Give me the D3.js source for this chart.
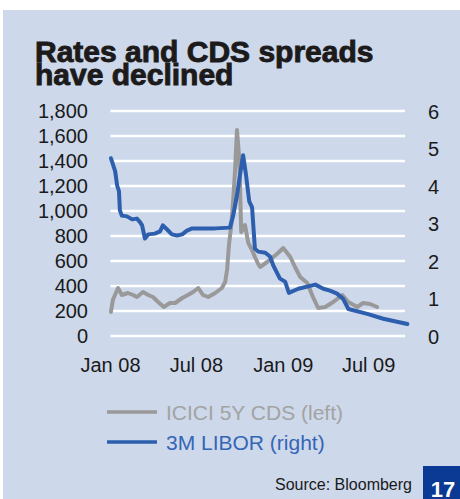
<!DOCTYPE html>
<html>
<head>
<meta charset="utf-8">
<script src="https://cdn.jsdelivr.net/npm/d3@7"></script>
<style>
  html, body { margin: 0; padding: 0; background: #ffffff; }
  svg { display: block; }
</style>
</head>
<body>
<svg id="chart" width="460" height="499"></svg>
<script>
// ICICI 5Y CDS spread (bp, left axis)
const cdsDates = ["2008-01-03","2008-01-07","2008-01-18","2008-01-26","2008-02-08","2008-02-19","2008-02-27","2008-03-11","2008-03-22","2008-04-01","2008-04-12","2008-04-24","2008-05-07","2008-05-18","2008-06-02","2008-06-14","2008-06-25","2008-07-06","2008-07-16","2008-07-27","2008-08-11","2008-08-25","2008-09-01","2008-09-05","2008-09-09","2008-09-14","2008-09-18","2008-09-22","2008-09-26","2008-10-01","2008-10-05","2008-10-13","2008-10-20","2008-10-28","2008-11-03","2008-11-10","2008-11-14","2008-11-29","2008-12-12","2008-12-22","2009-01-02","2009-01-17","2009-01-27","2009-02-07","2009-02-22","2009-03-06","2009-03-17","2009-04-01","2009-04-18","2009-05-07","2009-05-20","2009-06-08","2009-06-20","2009-07-05","2009-07-20"];
const cdsValues = [192,288,384,328,344,328,312,352,328,312,272,232,264,264,304,328,352,384,328,312,344,384,432,528,728,888,1088,1328,1648,1408,832,888,744,688,632,576,552,592,632,664,704,632,552,472,424,312,224,232,272,328,272,232,264,256,232];

// 3M USD LIBOR (%, right axis)
const liborDates = ["2008-01-03","2008-01-12","2008-01-16","2008-01-20","2008-01-22","2008-01-26","2008-02-06","2008-02-17","2008-02-27","2008-03-05","2008-03-09","2008-03-15","2008-03-22","2008-04-05","2008-04-16","2008-04-22","2008-05-01","2008-05-11","2008-05-22","2008-06-02","2008-06-12","2008-06-23","2008-08-11","2008-09-11","2008-09-18","2008-09-26","2008-10-03","2008-10-09","2008-10-15","2008-10-22","2008-10-28","2008-11-03","2008-11-10","2008-11-25","2008-12-05","2008-12-12","2008-12-26","2009-01-06","2009-01-14","2009-02-03","2009-03-11","2009-03-28","2009-04-11","2009-04-26","2009-05-09","2009-05-20","2009-06-29","2009-08-02","2009-08-31","2009-09-22"];
const liborValues = [4.74,4.39,4.02,3.86,3.35,3.21,3.19,3.11,3.13,3.03,2.95,2.60,2.71,2.73,2.79,2.95,2.84,2.71,2.68,2.71,2.81,2.87,2.87,2.89,3.21,3.75,4.34,4.82,4.31,3.59,3.43,2.33,2.25,2.22,2.12,1.88,1.53,1.45,1.15,1.26,1.37,1.26,1.21,1.13,0.99,0.72,0.59,0.46,0.38,0.32];

const leftTicks = [0,200,400,600,800,1000,1200,1400,1600,1800];
const rightTicks = [0,1,2,3,4,5,6];
const xTickDates = ["2008-01-01","2008-07-01","2009-01-01","2009-07-01"];
const xTickLabels = ["Jan 08","Jul 08","Jan 09","Jul 09"];
const xDomain = ["2008-01-01","2009-09-17"];

const parse = d3.timeParse("%Y-%m-%d");
const svg = d3.select("#chart");
const font = "'Liberation Sans', Arial, sans-serif";

// panel background
svg.append("rect").attr("x", 3).attr("y", 10).attr("width", 457).attr("height", 489)
  .attr("fill", "#cdd8ea");

// title
const title = svg.append("text").attr("x", 35).attr("font-family", font)
  .attr("font-weight", "bold").attr("font-size", 30).attr("fill", "#1c1a1a")
  .attr("stroke", "#1c1a1a").attr("stroke-width", 0.9);
title.append("tspan").attr("x", 35).attr("y", 62).text("Rates and CDS spreads");
title.append("tspan").attr("x", 35).attr("y", 85).text("have declined");

const x = d3.scaleTime().domain(xDomain.map(parse)).range([110, 405]);
const yL = d3.scaleLinear().domain([0, 1800]).range([336, 111]);
const yR = d3.scaleLinear().domain([0, 6]).range([336, 111]);

// gridlines
svg.append("g").selectAll("line").data(leftTicks).join("line")
  .attr("x1", x(parse("2008-01-02"))).attr("x2", x(parse(xDomain[1])))
  .attr("y1", d => yL(d)).attr("y2", d => yL(d))
  .attr("stroke", "#ffffff").attr("stroke-width", 2.5);

// left axis
const axL = svg.append("g").attr("transform", "translate(108,0)")
  .call(d3.axisLeft(yL).tickValues(leftTicks).tickSize(0).tickPadding(20)
    .tickFormat(d3.format(",")));
axL.select(".domain").remove();
axL.selectAll("text").attr("font-family", font).attr("font-size", 20).attr("fill", "#1a1a1a");

// right axis
const axR = svg.append("g").attr("transform", "translate(428,1)")
  .call(d3.axisRight(yR).tickValues(rightTicks).tickSize(0).tickPadding(0)
    .tickFormat(d3.format("d")));
axR.select(".domain").remove();
axR.selectAll("text").attr("font-family", font).attr("font-size", 20).attr("fill", "#1a1a1a");

// bottom axis
const axB = svg.append("g").attr("transform", "translate(0,358)")
  .call(d3.axisBottom(x).tickValues(xTickDates.map(parse)).tickSize(0).tickPadding(0)
    .tickFormat((d, i) => xTickLabels[i]));
axB.select(".domain").remove();
axB.selectAll("text").attr("font-family", font).attr("font-size", 20).attr("fill", "#1a1a1a");

// series lines
const cds = cdsDates.map((d, i) => ({ date: parse(d), v: cdsValues[i] }));
const libor = liborDates.map((d, i) => ({ date: parse(d), v: liborValues[i] }));

svg.append("path").datum(cds)
  .attr("d", d3.line().x(d => x(d.date)).y(d => yL(d.v)))
  .attr("fill", "none").attr("stroke", "#999999").attr("stroke-width", 4)
  .attr("stroke-linejoin", "round").attr("stroke-linecap", "round");

svg.append("path").datum(libor)
  .attr("d", d3.line().x(d => x(d.date)).y(d => yR(d.v)))
  .attr("fill", "none").attr("stroke", "#2d5fae").attr("stroke-width", 4)
  .attr("stroke-linejoin", "round").attr("stroke-linecap", "round");

// legend
const legend = [
  { label: "ICICI 5Y CDS (left)", line: "#999999", text: "#a3a3a3" },
  { label: "3M LIBOR (right)", line: "#2d5fae", text: "#3566b6" }
];
const lg = svg.append("g").selectAll("g").data(legend).join("g")
  .attr("transform", (d, i) => `translate(107,${412 + i * 30})`);
lg.append("line").attr("x1", 0).attr("x2", 50).attr("y1", 0).attr("y2", 0)
  .attr("stroke", d => d.line).attr("stroke-width", 3.5);
lg.append("text").attr("x", 59).attr("y", 7.5).attr("font-family", font)
  .attr("font-size", 21).attr("fill", d => d.text).text(d => d.label);

// source
svg.append("text").attr("x", 412).attr("y", 490).attr("text-anchor", "end")
  .attr("font-family", font).attr("font-size", 16).attr("fill", "#1a1a1a")
  .text("Source: Bloomberg");

// page number box
svg.append("rect").attr("x", 423).attr("y", 466).attr("width", 37).attr("height", 33)
  .attr("fill", "#0a3a94");
svg.append("text").attr("x", 443).attr("y", 497).attr("text-anchor", "middle")
  .attr("font-family", font).attr("font-weight", "bold").attr("font-size", 22)
  .attr("fill", "#ffffff").text("17");
</script>
</body>
</html>
